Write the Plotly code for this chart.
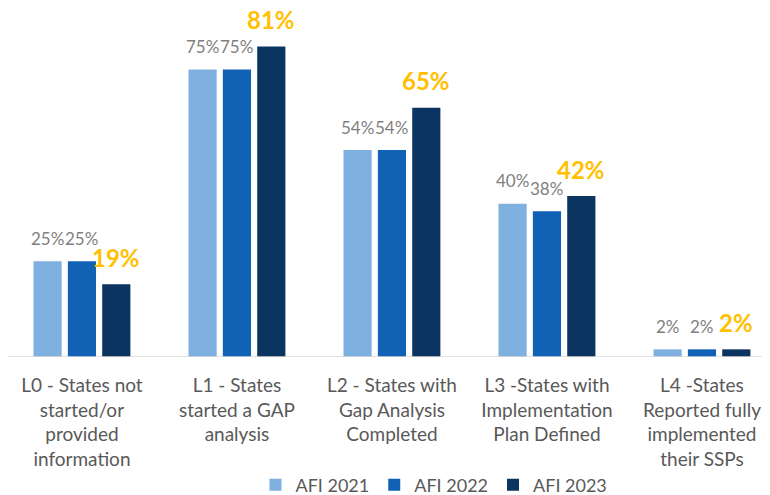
import plotly.graph_objects as go

# Categories and series values (percent of states)
categories = [
    "L0 - States not<br>started/or<br>provided<br>information",
    "L1 - States<br>started a GAP<br>analysis",
    "L2 - States with<br>Gap Analysis<br>Completed",
    "L3 -States with<br>Implementation<br>Plan Defined",
    "L4 -States<br>Reported fully<br>implemented<br>their SSPs",
]
afi_2021 = [25, 75, 54, 40, 2]
afi_2022 = [25, 75, 54, 38, 2]
afi_2023 = [19, 81, 65, 42, 2]

FONT = "Lato, 'Open Sans', sans-serif"
BARGAP = 0.335
BARGROUPGAP = 0.18

fig = go.Figure()

# gray labels for 2021/2022, bold orange for 2023
series = [
    ("AFI 2021", afi_2021, "#7fb0e0", dict(size=17, color="#7f7f7f", family=FONT), 23),
    ("AFI 2022", afi_2022, "#1162b4", dict(size=17, color="#7f7f7f", family=FONT), 23),
    ("AFI 2023", afi_2023, "#0b3461", dict(size=24, color="#ffc000", family=FONT, weight="bold"), 27),
]
slot = (1 - BARGAP) / len(series)
for k, (name, vals, color, tfont, shift) in enumerate(series):
    fig.add_trace(go.Bar(
        name=name,
        x=list(range(len(categories))),
        y=vals,
        marker=dict(color=color, line=dict(width=0)),
        hoverinfo="name+y",
    ))
    # value labels above each bar (centre of the bar inside its group)
    off = (k - (len(series) - 1) / 2) * slot
    for i, v in enumerate(vals):
        fig.add_annotation(
            x=i + off, y=v, text=f"{v}%", showarrow=False,
            xanchor="center", yanchor="middle", yshift=shift,
            font=tfont,
        )

fig.update_layout(
    width=762,
    height=487,
    margin=dict(l=0, r=0, t=4, b=138, autoexpand=False),
    paper_bgcolor="white",
    plot_bgcolor="white",
    barmode="group",
    bargap=BARGAP,
    bargroupgap=BARGROUPGAP,
    font=dict(family=FONT, color="#595959"),
    showlegend=True,
    legend=dict(
        orientation="h",
        x=0.559,
        xanchor="center",
        y=-0.371,
        yanchor="middle",
        font=dict(size=18, color="#595959"),
        itemwidth=30,
    ),
    xaxis=dict(
        tickmode="array",
        tickvals=list(range(len(categories))),
        ticktext=categories,
        range=[-0.477, 4.439],
        showgrid=False,
        zeroline=False,
        showline=False,
        ticks="",
        tickfont=dict(size=19, color="#595959"),
        ticklabelstandoff=15,
        automargin=False,
        fixedrange=True,
    ),
    yaxis=dict(
        range=[0, 90],
        visible=False,
        showgrid=False,
        zeroline=False,
        automargin=False,
        fixedrange=True,
    ),
)

# baseline
fig.add_shape(type="line", xref="paper", yref="y", x0=0, x1=1, y0=0, y1=0,
              line=dict(color="#d9d9d9", width=1.5))

fig.write_html("out.html")
